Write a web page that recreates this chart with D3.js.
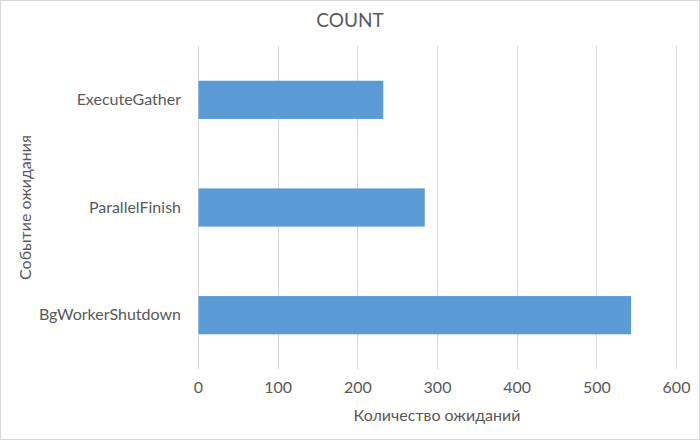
<!DOCTYPE html>
<html>
<head>
<meta charset="utf-8">
<script src="https://cdn.jsdelivr.net/npm/d3@7"></script>
<style>
  body { margin: 0; background: #fff; }
  text { font-family: Lato, "Open Sans", sans-serif; fill: #595959; }
</style>
</head>
<body>
<div id="chart"></div>
<script>
// data
const categories = ['ExecuteGather', 'ParallelFinish', 'BgWorkerShutdown'];
const counts = [232, 284, 543];
const xTicks = [0, 100, 200, 300, 400, 500, 600];

const width = 700, height = 440;
const margin = { top: 46, right: 24, bottom: 71, left: 198 };
const innerW = width - margin.left - margin.right;
const innerH = height - margin.top - margin.bottom;

const svg = d3.select('#chart')
  .append('svg')
  .attr('width', width)
  .attr('height', height);

// chart border
svg.append('rect')
  .attr('x', 0.5).attr('y', 0.5)
  .attr('width', width - 1).attr('height', height - 1)
  .attr('fill', '#fff')
  .attr('stroke', '#d9d9d9');

const g = svg.append('g')
  .attr('transform', 'translate(' + margin.left + ',' + margin.top + ')');

const x = d3.scaleLinear().domain([0, 600]).range([0, innerW - 0]);
const y = d3.scaleBand().domain(categories).range([0, innerH]).paddingInner(0.645).paddingOuter(0.3225);

// gridlines
g.append('g')
  .selectAll('line')
  .data(xTicks)
  .join('line')
  .attr('x1', d => Math.round(x(d)) + 0.5)
  .attr('x2', d => Math.round(x(d)) + 0.5)
  .attr('y1', 0)
  .attr('y2', innerH)
  .attr('stroke', '#d9d9d9')
  .attr('stroke-width', 1);

// bars
g.append('g')
  .selectAll('rect')
  .data(categories)
  .join('rect')
  .attr('x', x(0) + 0.5)
  .attr('y', d => y(d))
  .attr('width', (d, i) => x(counts[i]) - x(0))
  .attr('height', y.bandwidth())
  .attr('fill', '#5b9bd5');

// x axis labels
const xAxis = g.append('g')
  .attr('transform', 'translate(0,' + innerH + ')')
  .call(d3.axisBottom(x).tickValues(xTicks).tickSize(0).tickPadding(13));
xAxis.select('.domain').remove();
xAxis.selectAll('text')
  .style('font-size', '16px')
  .attr('fill', '#595959');

// y axis labels
const yAxis = g.append('g')
  .call(d3.axisLeft(y).tickSize(0).tickPadding(17));
yAxis.select('.domain').remove();
yAxis.selectAll('text')
  .style('font-size', '16px')
  .attr('fill', '#595959');

// title
svg.append('text')
  .attr('x', width / 2)
  .attr('y', 27)
  .attr('text-anchor', 'middle')
  .style('font-size', '19px')
  .text('COUNT');

// axis titles
svg.append('text')
  .attr('x', margin.left + innerW / 2)
  .attr('y', 421)
  .attr('text-anchor', 'middle')
  .style('font-size', '16px')
  .text('Количество ожиданий');

svg.append('text')
  .attr('transform', 'translate(31,' + (margin.top + innerH / 2) + ') rotate(-90)')
  .attr('text-anchor', 'middle')
  .style('font-size', '16px')
  .text('Событие ожидания');
</script>
</body>
</html>
